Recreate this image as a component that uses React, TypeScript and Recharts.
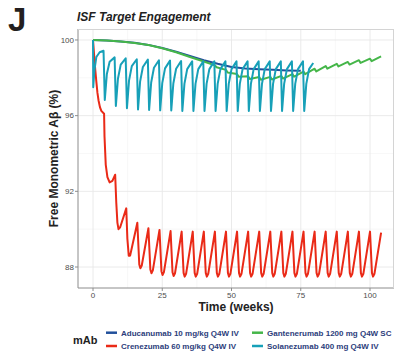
import { LineChart, Line, XAxis, YAxis, CartesianGrid } from "recharts"

type Pt = [number, number]

// axis ticks (weeks / % free monomer)
const weekTicks = [0, 25, 50, 75, 100]
const weekMinor = [12.5, 37.5, 62.5, 87.5]
const pctTicks = [88, 92, 96, 100]
const pctMinor = [90, 94, 98]

// simulated ISF free Aβ, [week, %]
const aducanumab: Pt[] = [
  [0, 100], [5, 99.97], [10, 99.92], [15, 99.85], [20, 99.74], [25, 99.58], [30, 99.38],
  [35, 99.15], [40, 98.93], [45, 98.74], [50, 98.57], [55, 98.49], [60, 98.45], [65, 98.42],
  [70, 98.39], [75, 98.37],
]

const crenezumab: Pt[] = [
  [0, 100], [0.4, 99.2], [0.8, 98.45], [1.2, 97.8], [1.6, 97.2], [2, 96.8], [2.5, 96.45], [3, 96.25], [4, 96.1],
  [4.15, 94.9], [4.6, 93.4], [5.2, 92.75], [6, 92.47], [7, 92.55], [8, 92.88],
  [8.4, 91.4], [8.8, 90.35], [9.2, 90.0], [9.8, 90.1], [12, 91.1],
  [12.4, 89.5], [12.9, 88.6], [13.4, 88.6], [14, 89.0], [16, 90.34],
  [16.7, 88.13], [17.1, 87.93], [17.6, 88.08], [20, 90.05],
  [20.7, 87.87], [21.1, 87.67], [21.6, 87.82], [24, 89.96],
  [24.7, 87.78], [25.1, 87.58], [25.6, 87.73], [28, 89.9],
  [28.7, 87.72], [29.1, 87.52], [29.6, 87.67], [32, 89.87],
  [32.7, 87.69], [33.1, 87.49], [33.6, 87.64], [36, 89.87],
  [36.7, 87.69], [37.1, 87.49], [37.6, 87.64], [40, 89.87],
  [40.7, 87.69], [41.1, 87.49], [41.6, 87.64], [44, 89.87],
  [44.7, 87.69], [45.1, 87.49], [45.6, 87.64], [48, 89.87],
  [48.7, 87.69], [49.1, 87.49], [49.6, 87.64], [52, 89.87],
  [52.7, 87.69], [53.1, 87.49], [53.6, 87.64], [56, 89.87],
  [56.7, 87.69], [57.1, 87.49], [57.6, 87.64], [60, 89.87],
  [60.7, 87.69], [61.1, 87.49], [61.6, 87.64], [64, 89.87],
  [64.7, 87.69], [65.1, 87.49], [65.6, 87.64], [68, 89.87],
  [68.7, 87.69], [69.1, 87.49], [69.6, 87.64], [72, 89.87],
  [72.7, 87.69], [73.1, 87.49], [73.6, 87.64], [76, 89.87],
  [76.7, 87.69], [77.1, 87.49], [77.6, 87.64], [80, 89.87],
  [80.7, 87.69], [81.1, 87.49], [81.6, 87.64], [84, 89.87],
  [84.7, 87.69], [85.1, 87.49], [85.6, 87.64], [88, 89.87],
  [88.7, 87.69], [89.1, 87.49], [89.6, 87.64], [92, 89.87],
  [92.7, 87.69], [93.1, 87.49], [93.6, 87.64], [96, 89.87],
  [96.7, 87.69], [97.1, 87.49], [97.6, 87.64], [100, 89.87],
  [100.7, 87.69], [101.1, 87.49], [101.6, 87.64], [104, 89.82],
]

const gantenerumab: Pt[] = [
  [0, 100], [5, 99.97], [10, 99.92], [15, 99.84], [20, 99.73], [25, 99.56], [30, 99.35],
  [35, 99.1], [40, 98.86],
  [44, 98.66], [44.6, 98.56], [48, 98.42], [48.6, 98.28], [52, 98.2], [52.6, 98.06],
  [56, 98.08], [56.6, 97.94], [60, 98.04], [60.6, 97.9], [64, 98.05], [64.6, 97.91],
  [68, 98.1], [68.6, 97.96], [72, 98.2], [72.6, 98.06], [76, 98.33], [76.6, 98.19],
  [80, 98.48], [80.6, 98.34], [84, 98.62], [84.6, 98.48], [88, 98.74], [88.6, 98.6],
  [92, 98.84], [92.6, 98.7], [96, 98.93], [96.6, 98.79], [100, 99.01], [100.6, 98.88],
  [104, 99.13],
]

const solanezumab: Pt[] = [
  [0, 100], [0.08, 97.5], [0.5, 98.4], [1.2, 99.1], [2.4, 99.35], [3.8, 99.43],
  [4.25, 96.83], [5, 98.2], [6, 98.85], [7.8, 99.08],
  [8.25, 96.51], [9, 97.95], [10, 98.7], [11.8, 99.03],
  [12.25, 96.39], [13, 97.85], [14, 98.62], [15.8, 98.98],
  [16.25, 96.33], [17, 97.8], [18, 98.57], [19.8, 98.96],
  [20.25, 96.3], [21, 97.75], [22, 98.53], [23.8, 98.93],
  [24.25, 96.28], [25, 97.72], [26, 98.5], [27.8, 98.91],
  [28.25, 96.27], [29, 97.7], [30, 98.48], [31.8, 98.89],
  [32.25, 96.25], [33, 97.68], [34, 98.46], [35.8, 98.87],
  [36.25, 96.25], [37, 97.68], [38, 98.46], [39.8, 98.87],
  [40.25, 96.25], [41, 97.68], [42, 98.46], [43.8, 98.87],
  [44.25, 96.25], [45, 97.68], [46, 98.46], [47.8, 98.87],
  [48.25, 96.25], [49, 97.68], [50, 98.46], [51.8, 98.87],
  [52.25, 96.25], [53, 97.68], [54, 98.46], [55.8, 98.87],
  [56.25, 96.25], [57, 97.68], [58, 98.46], [59.8, 98.87],
  [60.25, 96.25], [61, 97.68], [62, 98.46], [63.8, 98.87],
  [64.25, 96.25], [65, 97.68], [66, 98.46], [67.8, 98.87],
  [68.25, 96.25], [69, 97.68], [70, 98.46], [71.8, 98.87],
  [72.25, 96.25], [73, 97.68], [74, 98.46], [75.8, 98.87],
  [76.25, 96.25], [77, 97.68], [78, 98.46], [79.5, 98.78],
]

const SERIES = [
  { key: "adu", name: "Aducanumab 10 mg/kg Q4W IV", color: "#21509b", points: aducanumab },
  { key: "cre", name: "Crenezumab 60 mg/kg Q4W IV", color: "#ea2a17", points: crenezumab },
  { key: "gan", name: "Gantenerumab 1200 mg Q4W SC", color: "#45b649", points: gantenerumab },
  { key: "sol", name: "Solanezumab 400 mg Q4W IV", color: "#17a0b8", points: solanezumab },
]

const W = 397
const H = 351
const PLOT = { left: 78, top: 29, right: 394, bottom: 288 }
const AXIS_GREY = "#8c8c8c"
const TICK_TEXT = { fill: "#4d4d4d", fontSize: 8 }

const toRows = (pts: Pt[]) => pts.map(([week, value]) => ({ week, value }))

export default function App() {
  return (
    <div
      style={{
        position: "absolute",
        left: 0,
        top: 0,
        width: W,
        height: H,
        background: "#fff",
        fontFamily: "'Liberation Sans', Arial, Helvetica, sans-serif",
      }}
    >
      <LineChart width={W} height={H} margin={{ top: PLOT.top, right: W - PLOT.right, bottom: 0, left: 0 }}>
        {/* minor then major grid */}
        <CartesianGrid stroke="#f3f3f3" strokeWidth={0.6} horizontalValues={pctMinor} verticalValues={weekMinor} />
        <CartesianGrid stroke="#e8e8e8" strokeWidth={0.9} horizontalValues={pctTicks} verticalValues={weekTicks} />
        <XAxis
          dataKey="week"
          type="number"
          domain={[-5.42, 108.66]}
          ticks={weekTicks}
          allowDataOverflow
          height={H - PLOT.bottom}
          tickSize={3}
          tickMargin={1}
          tick={TICK_TEXT}
          stroke={AXIS_GREY}
        />
        <YAxis
          type="number"
          domain={[86.89, 100.58]}
          ticks={pctTicks}
          allowDataOverflow
          width={PLOT.left}
          tickSize={3}
          tickMargin={1}
          tick={TICK_TEXT}
          stroke={AXIS_GREY}
        />
        {SERIES.map((s) => (
          <Line
            key={s.key}
            data={toRows(s.points)}
            dataKey="value"
            name={s.name}
            type="linear"
            stroke={s.color}
            strokeWidth={2}
            strokeLinejoin="round"
            dot={false}
            activeDot={false}
            isAnimationActive={false}
          />
        ))}
      </LineChart>

      <svg width={W} height={H} style={{ position: "absolute", left: 0, top: 0, pointerEvents: "none" }}>
        {/* light panel border on top and right */}
        <line x1={PLOT.left} x2={PLOT.right} y1={PLOT.top + 0.5} y2={PLOT.top + 0.5} stroke="#d4d4d4" />
        <line x1={PLOT.right - 0.5} x2={PLOT.right - 0.5} y1={PLOT.top} y2={PLOT.bottom} stroke="#d4d4d4" />

        <text x={8} y={30.5} fontSize={33} fontWeight="bold" fill="#231f20">J</text>
        <text x={77} y={21} fontSize={12} fontWeight="bold" fontStyle="italic" fill="#222">
          ISF Target Engagement
        </text>
        <text
          x={57.5}
          y={158.5}
          fontSize={12}
          fontWeight="bold"
          fill="#222"
          textAnchor="middle"
          transform="rotate(-90 57.5 158.5)"
        >
          Free Monometric Aβ (%)
        </text>
        <text x={236} y={311} fontSize={12} fontWeight="bold" fill="#222" textAnchor="middle">
          Time (weeks)
        </text>

        {/* legend */}
        <text x={73} y={343.5} fontSize={11} fontWeight="bold" fill="#222">mAb</text>
        {SERIES.map((s, i) => {
          const lx = i < 2 ? 106 : 252
          const ly = i % 2 === 0 ? 332.7 : 346
          return (
            <g key={s.key}>
              <line x1={lx} x2={lx + 11} y1={ly} y2={ly} stroke={s.color} strokeWidth={2.5} />
              <text x={lx + 15} y={ly + 3.1} fontSize={8} fontWeight="bold" fill="#2c3d7b">
                {s.name}
              </text>
            </g>
          )
        })}
      </svg>
    </div>
  )
}
